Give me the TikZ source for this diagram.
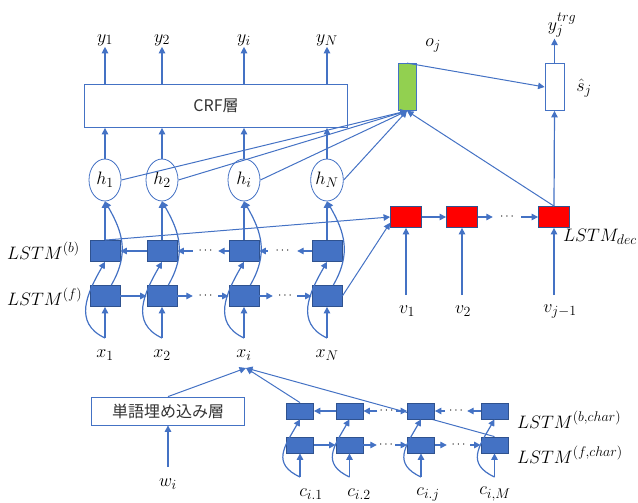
\RequirePackage{fix-cm}
\documentclass[tikz,border=0pt]{standalone}
\usepackage{fontspec}
\newfontfamily\jpfont{Noto Sans CJK JP}
\usetikzlibrary{arrows.meta,shapes.geometric,backgrounds}
\DeclareMathSizes{18}{18}{14}{11}
\definecolor{lineblue}{RGB}{68,114,196}
\definecolor{cellblue}{RGB}{47,82,143}
\definecolor{attgreen}{RGB}{146,208,80}

\begin{document}
\begin{tikzpicture}[x=1pt,y=-1pt,
  font=\fontsize{18}{21}\selectfont,
  arr/.style={draw=lineblue,line width=1.2pt,-{Triangle[width=6.5pt,length=6.5pt]}},
  lbl/.style={inner sep=1pt},
  jp/.style={draw=lineblue,line width=0.8pt,text=black!80,font=\jpfont\fontsize{16}{19}\selectfont},
  cell/.style={draw=cellblue,fill=lineblue,line width=0.8pt,inner sep=0pt,minimum width=30pt,minimum height=21pt},
  ccell/.style={cell,minimum width=27pt,minimum height=16pt},
  redcell/.style={cell,fill=red,minimum width=31pt},
  hcirc/.style={ellipse,draw=lineblue,line width=0.8pt,inner sep=0pt,minimum width=32pt,minimum height=42pt},
  gapdots/.style={inner sep=0pt,minimum width=#1,font=\fontsize{12}{14}\selectfont}]

\useasboundingbox (0,0) rectangle (638,503);

% encoder
\node[jp,minimum width=263pt,minimum height=43pt] (crf) at (216,106) {CRF層};
\foreach \n/\x/\s in {1/105/1,2/162/2,3/244/i,4/327/N}{
  \node[lbl] (y\n) at (\x,40) {$y_{\s}$};
  \node[hcirc] (h\n) at (\x,180) {$h_{\s}$};
  \node[cell] (b\n) at (\x,251) {};
  \node[cell] (f\n) at (\x,296) {};
  \node[lbl] (x\n) at (\x,355) {$x_{\s}$};
  \coordinate (in\n) at (\x,338);
}
\node[lbl,anchor=west] (lb) at (6,251) {$LSTM^{(b)}$};
\node[lbl,anchor=west] (lf) at (6,297) {$LSTM^{(f)}$};
\node[gapdots=25pt] (fd1) at (205.5,296) {$\cdots$};
\node[gapdots=24pt] (fd2) at (285,296) {$\cdots$};
\node[gapdots=25pt] (bd1) at (205.5,251) {$\cdots$};
\node[gapdots=29pt] (bd2) at (282.5,251) {$\cdots$};

% decoder
\node[redcell] (r1) at (406,217) {};
\node[redcell] (r2) at (462,217) {};
\node[redcell] (r3) at (554,217) {};
\node[gapdots=28pt] (rd) at (507,217) {$\cdots$};
\node[lbl,anchor=east] (ldec) at (638,237) {$LSTM_{dec}$};
\foreach \n/\x/\l/\s in {1/406/407/1,2/462/463/2,3/554/560/{j-1}}{
  \node[lbl] (v\n) at (\l,311) {$v_{\s}$};
  \coordinate (vin\n) at (\x,295);
}
\node[draw=lineblue,fill=attgreen,line width=0.8pt,inner sep=0pt,minimum width=18pt,minimum height=47pt] (oj) at (407,87) {};
\node[lbl] (ojl) at (433,45) {$o_j$};
\node[draw=lineblue,fill=white,line width=0.8pt,inner sep=0pt,minimum width=19pt,minimum height=47pt] (sj) at (554.5,87) {};
\node[lbl] (sjl) at (584,88) {$\hat{s}_j$};
\node[lbl] (yt) at (562,25) {$y_j^{trg}$};

% word and char input
\node[jp,minimum width=153pt,minimum height=28pt] (emb) at (168,411) {単語埋め込み層};
\node[lbl] (w) at (168,484) {$w_i$};
\coordinate (win) at (168,467);
\coordinate (xfoot) at (246,368);
\foreach \n/\x/\l/\s in {1/300/311/{i.1},2/349.5/359/{i.2},3/421/428/{i.j},4/494.5/495/{i,M}}{
  \node[ccell] (cb\n) at (\x,411) {};
  \node[ccell] (cf\n) at (\x,445) {};
  \node[lbl] (c\n) at (\l,494) {$c_{\s}$};
  \coordinate (cin\n) at (\x,477);
}
\node[lbl,anchor=west] (lbc) at (516,420) {$LSTM^{(b,char)}$};
\node[lbl,anchor=west] (lfc) at (516,455) {$LSTM^{(f,char)}$};
\node[gapdots=18pt] (cfd1) at (386,445) {$\cdots$};
\node[gapdots=23pt] (cfd2) at (458.5,445) {$\cdots$};
\node[gapdots=18pt] (cbd1) at (386.5,411) {$\cdots$};
\node[gapdots=22pt] (cbd2) at (456,411) {$\cdots$};

% connectors
\foreach \n in {1,...,4}{
  \draw[arr] (crf.north -| y\n) -- (y\n.south);
  \draw[arr] (h\n.north) -- (crf.south -| h\n);
  \draw[arr] (b\n.north) -- (h\n.south);
  \draw[arr] (in\n) -- (f\n.south);
  \draw[arr] (in\n) to[out=155,in=240,looseness=1.2] (b\n.south);
  \draw[arr] (f\n.60) to[out=60,in=300,looseness=1.1] (h\n.south);
  \draw[arr,line width=1pt] (h\n.east) -- (oj.south);
}
\draw[arr] (f1) -- (f2);
\draw[arr] (f2) -- (fd1);
\draw[arr] (fd1) -- (f3);
\draw[arr] (f3) -- (fd2);
\draw[arr] (fd2) -- (f4);
\draw[arr] (b2) -- (b1);
\draw[arr] (bd1) -- (b2);
\draw[arr] (b3) -- (bd1);
\draw[arr] (bd2) -- (b3);
\draw[arr] (b4) -- (bd2);

\foreach \n in {1,2,3}{
  \draw[arr] (vin\n) -- (r\n.south);
}
\draw[arr] (r1) -- (r2);
\draw[arr] (r2) -- (rd);
\draw[arr] (rd) -- (r3);
\draw[arr,line width=1pt] (b1.north) -- (r1.west);
\draw[arr,line width=1pt] (f4.east) -- (r1.200);
\draw[arr,line width=1pt] (r3.north) -- (oj.south);
\draw[arr] (r3.north) -- (sj.south);
\draw[arr,line width=1pt] (oj.north) -- (sj.west);
\draw[arr] (sj.north) -- (sj.north |- yt.south);

\draw[arr] (win) -- (emb.south);
\draw[arr,line width=1pt] (emb.north) -- (xfoot);
\foreach \n in {1,...,4}{
  \draw[arr] (cin\n) -- (cf\n.south);
  \draw[arr] (cin\n) to[out=155,in=240,looseness=1.4] (cb\n.south);
}
\draw[arr] (cf1) -- (cf2);
\draw[arr] (cf2) -- (cfd1);
\draw[arr] (cfd1) -- (cf3);
\draw[arr] (cf3) -- (cfd2);
\draw[arr] (cfd2) -- (cf4);
\draw[arr] (cb2) -- (cb1);
\draw[arr] (cbd1) -- (cb2);
\draw[arr] (cbd1) -- (cb3);
\draw[arr] (cbd2) -- (cb3);
\draw[arr] (cb4) -- (cbd2);
\draw[arr,line width=1pt] (cb1.north) -- (xfoot);
\begin{scope}[on background layer]
  \draw[arr,line width=1pt] (cf4.north) -- (xfoot);
\end{scope}
\end{tikzpicture}
\end{document}
